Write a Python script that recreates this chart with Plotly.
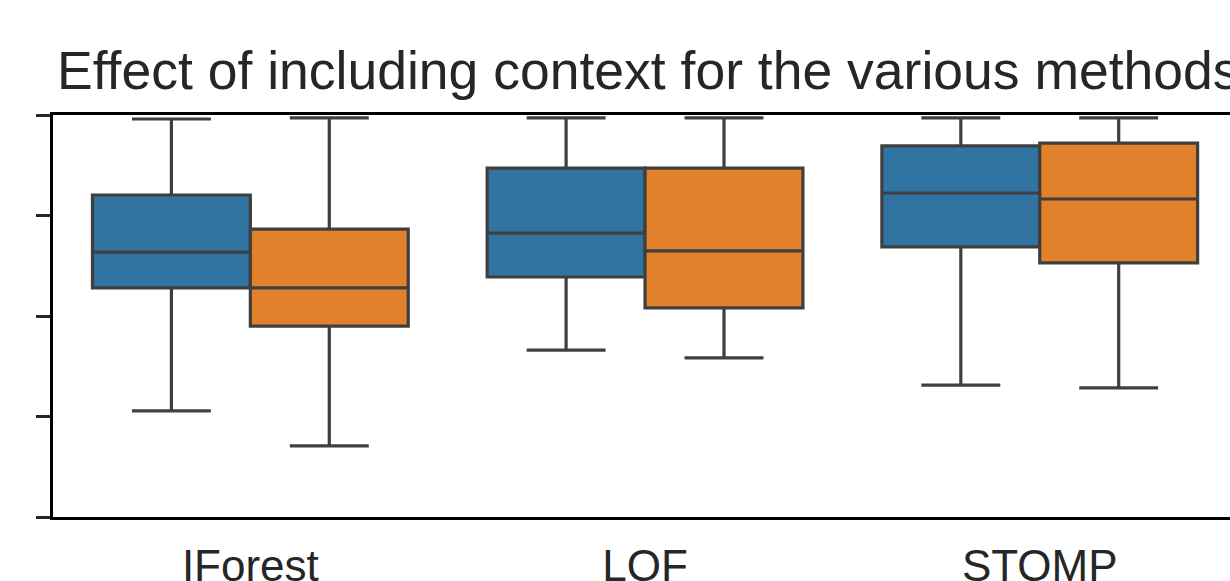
import plotly.graph_objects as go

# Summary statistics of the score for each method, with and without context
methods = ["IForest", "LOF", "STOMP"]

no_ctx_lower = [0.264, 0.415, 0.328]
no_ctx_q1 = [0.570, 0.597, 0.672]
no_ctx_median = [0.659, 0.706, 0.806]
no_ctx_q3 = [0.801, 0.868, 0.923]
no_ctx_upper = [0.990, 0.993, 0.993]

ctx_lower = [0.177, 0.396, 0.321]
ctx_q1 = [0.475, 0.520, 0.632]
ctx_median = [0.570, 0.662, 0.791]
ctx_q3 = [0.716, 0.868, 0.930]
ctx_upper = [0.993, 0.993, 0.993]

y_ticks = [0, 0.25, 0.5, 0.75, 1.0]

EDGE = "#3f3f3f"
BLUE = "#3274a1"
ORANGE = "#e1812c"

fig = go.Figure()
for name, color, lo, q1, med, q3, hi in [
    ("without context", BLUE, no_ctx_lower, no_ctx_q1, no_ctx_median, no_ctx_q3, no_ctx_upper),
    ("with context", ORANGE, ctx_lower, ctx_q1, ctx_median, ctx_q3, ctx_upper),
]:
    fig.add_trace(go.Box(
        name=name,
        x=methods,
        lowerfence=lo,
        q1=q1,
        median=med,
        q3=q3,
        upperfence=hi,
        fillcolor=color,
        line=dict(color=EDGE, width=3.2),
        whiskerwidth=0.5,
        boxpoints=False,
        hoverinfo="skip",
    ))

fig.add_annotation(
    text="Effect of including context for the various methods",
    xref="x", yref="paper", x=1, y=1,
    xanchor="center", yanchor="bottom", yshift=13, xshift=3,
    showarrow=False,
    font=dict(family="Liberation Sans, Arial, sans-serif", size=53.5, color="#262626"),
)

fig.update_layout(
    width=1230, height=581,
    margin=dict(l=53, r=0, t=115, b=64),
    paper_bgcolor="white", plot_bgcolor="white",
    boxmode="group", boxgap=0.2, boxgroupgap=0,
    showlegend=False,
    font=dict(family="Liberation Sans, Arial, sans-serif", color="#262626"),
)
fig.update_xaxes(
    range=[-0.5, 2.482],
    showline=True, linecolor="black", linewidth=3, mirror=True,
    showgrid=False, zeroline=False, ticks="",
    ticklabelstandoff=8, automargin=False,
    tickfont=dict(size=44, color="#262626"),
)
fig.update_yaxes(
    range=[0, 1],
    tickvals=y_ticks,
    showticklabels=False,
    showline=True, linecolor="black", linewidth=3,
    ticks="outside", ticklen=14, tickwidth=3, tickcolor="#262626",
    showgrid=False, zeroline=False, automargin=False,
)

fig.write_html("out.html")
